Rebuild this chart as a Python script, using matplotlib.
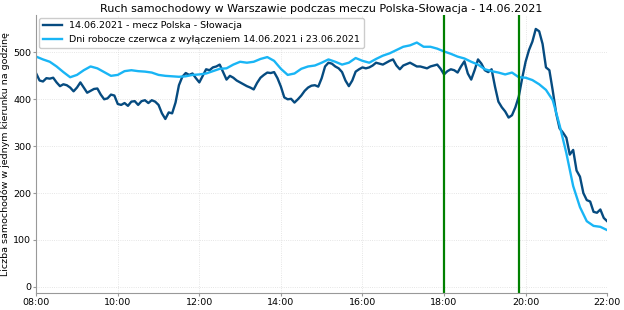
import numpy as np
import matplotlib
matplotlib.use('Agg')
import matplotlib.pyplot as plt

# minutes after 08:00
minutes_match = np.arange(0, 845, 5)
minutes_work = np.arange(0, 850, 10)

# one row = one hour (5 min step)
match_day = [455, 440, 438, 445, 444, 446, 436, 428, 432, 430, 425, 417,
             425, 436, 425, 414, 418, 422, 423, 410, 400, 402, 410, 408,
             390, 388, 392, 386, 395, 396, 388, 396, 398, 392, 398, 395,
             388, 370, 358, 372, 370, 393, 430, 448, 456, 452, 455, 445,
             436, 450, 464, 462, 468, 470, 474, 458, 442, 450, 446, 440,
             436, 432, 428, 425, 421, 435, 446, 452, 457, 456, 458, 445,
             427, 404, 400, 401, 393, 400, 408, 418, 425, 429, 430, 427,
             445, 470, 478, 476, 470, 466, 458, 440, 428, 440, 459, 464,
             468, 466, 468, 472, 478, 476, 474, 478, 482, 485, 472, 464,
             472, 475, 478, 474, 470, 470, 468, 466, 470, 472, 474, 465,
             453, 460, 464, 462, 457, 470, 481, 455, 442, 462, 485, 476,
             462, 458, 464, 427, 395, 383, 374, 361, 366, 383, 406, 445,
             480, 505, 523, 550, 545, 518, 468, 462, 418, 370, 338, 329,
             318, 282, 292, 248, 235, 200, 185, 182, 160, 158, 165, 147,
             140]

# 10 min step
workdays = [491, 485, 480, 470, 458, 447, 452, 462, 470, 466,
            458, 450, 452, 460, 462, 460, 459, 457, 452, 450,
            449, 448, 449, 452, 453, 455, 460, 465, 466, 474,
            480, 478, 480, 486, 490, 482, 465, 452, 455, 465,
            470, 472, 478, 485, 480, 474, 478, 488, 482, 478,
            486, 493, 498, 505, 512, 515, 521, 512, 512, 508,
            502, 497, 491, 487, 480, 474, 464, 460, 457, 453,
            457, 447, 446, 441, 432, 420, 398, 345, 285, 215,
            170, 140, 130, 128, 121]

tick_labels = ['08:00', '10:00', '12:00', '14:00', '16:00', '18:00', '20:00', '22:00']
match_marks = [600, 710]  # 18:00 and 19:50

fig = plt.figure(figsize=(6.24, 3.10), dpi=100)
ax = fig.add_axes([0.058, 0.055, 0.915, 0.897])

ax.plot(minutes_match, match_day, color='#064b80', lw=1.7, label='14.06.2021 - mecz Polska - Słowacja')
ax.plot(minutes_work, workdays, color='#19b5f5', lw=1.7, label='Dni robocze czerwca z wyłączeniem 14.06.2021 i 23.06.2021')
for m in match_marks:
    ax.axvline(m, color='green', lw=1.6)

ax.set_xlim(0, 840)
ax.set_ylim(-13, 580)
ax.set_xticks(np.arange(0, 841, 120))
ax.set_xticklabels(tick_labels)
ax.set_yticks(np.arange(0, 501, 100))
ax.tick_params(labelsize=6.8, length=2, pad=1.5, color='#999999')
ax.grid(True, color='#dddddd', lw=0.6, ls=':')
for s in ['top', 'right']:
    ax.spines[s].set_visible(False)
for s in ['left', 'bottom']:
    ax.spines[s].set_color('#999999')

ax.set_title('Ruch samochodowy w Warszawie podczas meczu Polska-Słowacja - 14.06.2021', fontsize=8, pad=2)
ax.set_ylabel('Liczba samochodów w jednym kierunku na godzinę', fontsize=6.8, labelpad=2)
ax.legend(loc='upper left', fontsize=6.8, framealpha=1, borderaxespad=0.3)

fig.savefig('out.png', dpi=100)
